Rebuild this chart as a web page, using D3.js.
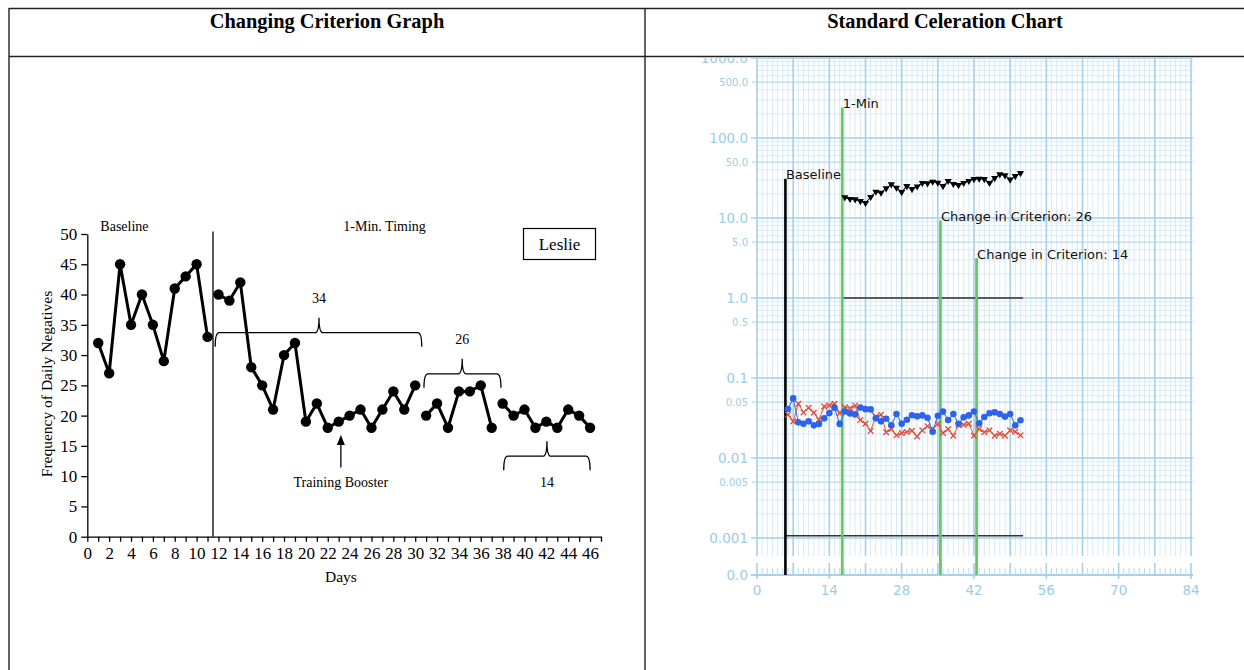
<!DOCTYPE html>
<html>
<head>
<meta charset="utf-8">
<script src="https://cdn.jsdelivr.net/npm/d3@7"></script>
<style>
body{margin:0;background:#fff}
svg{display:block}
</style>
</head>
<body>
<svg id="chart" width="1244" height="670"></svg>
<script>
// ---- changing criterion graph (left)
var days = [1,2,3,4,5,6,7,8,9,10,11,12,13,14,15,16,17,18,19,20,21,22,23,24,25,26,27,28,29,30,31,32,33,34,35,36,37,38,39,40,41,42,43,44,45,46]
var negatives = [32,27,45,35,40,35,29,41,43,45,33,
  40,39,42,28,25,21,30,32,19,22,18,19,20,21,18,21,24,21,25,
  20,22,18,24,24,25,18,
  22,20,21,18,19,18,21,20,18]
var lineBreaks = [11, 30, 37]          // line stops after these days
var phaseLineDay = 11.5
var criteria = ["34", "26", "14"]
var bracketFrom = [11.7, 30.8, 38.1]
var bracketTo = [30.6, 37.85, 46]
var bracketPeak = [21.2, 34.3, 42.05]
var bracketLevel = [33.7, 26.9, 13.3]
var boosterDay = 23.2

// ---- standard celeration chart (right)
var celDays = [6,7,8,9,10,11,12,13,14,15,16,17,18,19,20,21,22,23,24,25,26,27,28,29,30,31,32,33,34,35,36,37,38,39,40,41,42,43,44,45,46,47,48,49,50,51]
var corrects = [0.041,0.0556,0.0279,0.0268,0.0287,0.0256,0.0267,0.0313,0.0365,0.0425,0.0267,
  0.0382,0.0361,0.0351,0.0428,0.0408,0.0405,0.0313,0.0287,0.031,0.0257,0.0355,0.0268,0.0301,0.0343,
  0.0332,0.0341,0.0319,0.0213,0.0338,0.038,0.0298,0.0355,0.0268,0.0322,0.0341,0.0381,0.0271,0.0325,
  0.0363,0.0372,0.0355,0.0329,0.0355,0.0256,0.0297]
var errors = [0.0348,0.0287,0.0477,0.0371,0.0425,0.0368,0.0301,0.0441,0.0454,0.0477,0.0365,
  0.043,0.042,0.045,0.0298,0.0268,0.0218,0.033,0.0348,0.021,0.023,0.0192,0.0205,0.0211,0.0219,
  0.0186,0.0222,0.0249,0.0232,0.0266,0.0205,0.023,0.019,0.0256,0.026,0.0268,0.019,0.023,0.021,
  0.0222,0.019,0.0201,0.019,0.0222,0.0213,0.0192]
var timingDays = [17,18,19,20,21,22,23,24,25,26,27,28,29,30,31,32,33,34,35,36,37,38,39,40,41,42,43,44,45,46,47,48,49,50,51]
var timingCounts = [18.1,17.3,17.1,16.3,15.4,18.3,21.3,20.7,23.5,26.3,23.9,21.1,25.1,23.0,24.8,27.4,27.1,
  28.4,27.6,25.1,29,26.6,25.8,27.4,29,30.7,31,30.7,27.4,31.6,35.1,34.1,30.2,33.4,36.5]
var phaseDays = [5.5, 16.5, 35.5, 42.5]
var phaseTops = [31, 240, 9.3, 3.16]
var phaseNames = ["Baseline", "1-Min", "Change in Criterion: 26", "Change in Criterion: 14"]
var aimFrom = [16.5, 5.5]
var aimTo = [51.5, 51.5]
var aimValue = [1.0, 0.00107]
var majorTicks = [1000, 100, 10, 1, 0.1, 0.01, 0.001]
var majorLabels = ["1000.0", "100.0", "10.0", "1.0", "0.1", "0.01", "0.001"]
var halfTicks = [500, 50, 5, 0.5, 0.05, 0.005]
var halfLabels = ["500.0", "50.0", "5.0", "0.5", "0.05", "0.005"]
var dayLabels = [0, 14, 28, 42, 56, 70, 84]

var svg = d3.select("#chart")
var serif = "Liberation Serif, Times New Roman, serif"
var sans = "DejaVu Sans, sans-serif"

// table frame
var frame = svg.append("g").attr("stroke", "#222").attr("stroke-width", 1.4)
frame.append("line").attr("x1", 9).attr("x2", 1244).attr("y1", 8.5).attr("y2", 8.5)
frame.append("line").attr("x1", 9).attr("x2", 1244).attr("y1", 56.5).attr("y2", 56.5)
frame.append("line").attr("x1", 9).attr("x2", 9).attr("y1", 8).attr("y2", 670)
frame.append("line").attr("x1", 645).attr("x2", 645).attr("y1", 8).attr("y2", 670)

svg.append("text").attr("x", 327).attr("y", 28).attr("text-anchor", "middle")
  .style("font", "bold 20.4px " + serif).text("Changing Criterion Graph")
svg.append("text").attr("x", 945).attr("y", 28).attr("text-anchor", "middle")
  .style("font", "bold 20.4px " + serif).text("Standard Celeration Chart")

// ================= left graph
var x = d3.scaleLinear().domain([0, 47]).range([87.3, 601])
var y = d3.scaleLinear().domain([0, 50]).range([536.7, 234])
var left = svg.append("g")

var xAxis = left.append("g").attr("transform", "translate(0," + y(0) + ")")
  .call(d3.axisBottom(x).tickValues(d3.range(0, 48)).tickSize(5).tickSizeOuter(0).tickPadding(5)
    .tickFormat(function(d){ return (d % 2 == 0 && d <= 46) ? d : "" }))
var yAxis = left.append("g").attr("transform", "translate(" + x(0) + ",0)")
  .call(d3.axisLeft(y).tickValues(d3.range(0, 51, 5)).tickSize(6).tickSizeOuter(0).tickPadding(4))
left.selectAll(".domain, .tick line").attr("stroke", "#000").attr("stroke-width", 1.3)
left.selectAll(".tick text").style("font", "17px " + serif).attr("fill", "#000")

left.append("text").attr("transform", "translate(52," + 384 + ") rotate(-90)")
  .attr("text-anchor", "middle").style("font", "15.5px " + serif).text("Frequency of Daily Negatives")
left.append("text").attr("x", x(23.2)).attr("y", 582).attr("text-anchor", "middle")
  .style("font", "15.5px " + serif).text("Days")

// phase change line
left.append("line").attr("x1", x(phaseLineDay)).attr("x2", x(phaseLineDay))
  .attr("y1", y(0)).attr("y2", y(50.4)).attr("stroke", "#000").attr("stroke-width", 1.3)
left.append("text").attr("x", x(3.4)).attr("y", 231).attr("text-anchor", "middle")
  .style("font", "14px " + serif).text("Baseline")
left.append("text").attr("x", x(27.2)).attr("y", 231).attr("text-anchor", "middle")
  .style("font", "14px " + serif).text("1-Min. Timing")

// name box
left.append("rect").attr("x", 523.5).attr("y", 228.5).attr("width", 72).attr("height", 31)
  .attr("fill", "none").attr("stroke", "#000").attr("stroke-width", 1.2)
left.append("text").attr("x", 559.5).attr("y", 250).attr("text-anchor", "middle")
  .style("font", "17px " + serif).text("Leslie")

// data, broken into segments at the phase breaks
var points = days.map(function(d, i){ return {day: d, value: negatives[i]} })
var segments = []
var cur = []
points.forEach(function(p){
  cur.push(p)
  if (lineBreaks.indexOf(p.day) >= 0){ segments.push(cur); cur = [] }
})
segments.push(cur)
var line = d3.line().x(function(d){ return x(d.day) }).y(function(d){ return y(d.value) })
left.selectAll(".seg").data(segments).enter().append("path")
  .attr("d", line).attr("fill", "none").attr("stroke", "#000").attr("stroke-width", 3)
  .attr("stroke-linejoin", "round")
left.selectAll(".dot").data(points).enter().append("circle")
  .attr("cx", function(d){ return x(d.day) }).attr("cy", function(d){ return y(d.value) })
  .attr("r", 5.2).attr("fill", "#000")

// criterion braces
function brace(x0, x1, xm, yh){
  var drop = 14, rise = 15, r = 4
  return "M" + x0 + "," + (yh + drop) +
    " Q" + x0 + "," + yh + " " + (x0 + r) + "," + yh +
    " L" + (xm - r) + "," + yh +
    " Q" + xm + "," + yh + " " + xm + "," + (yh - rise) +
    " Q" + xm + "," + yh + " " + (xm + r) + "," + yh +
    " L" + (x1 - r) + "," + yh +
    " Q" + x1 + "," + yh + " " + x1 + "," + (yh + drop)
}
criteria.forEach(function(c, i){
  var yh = y(bracketLevel[i])
  left.append("path").attr("d", brace(x(bracketFrom[i]), x(bracketTo[i]), x(bracketPeak[i]), yh))
    .attr("fill", "none").attr("stroke", "#000").attr("stroke-width", 1.3)
  var ty = i < 2 ? yh - 30 : yh + 31
  left.append("text").attr("x", x(bracketPeak[i])).attr("y", ty).attr("text-anchor", "middle")
    .style("font", "14px " + serif).text(c)
})

// training booster arrow
var bx = x(boosterDay)
left.append("line").attr("x1", bx).attr("x2", bx).attr("y1", 467.5).attr("y2", 442)
  .attr("stroke", "#000").attr("stroke-width", 1.3)
left.append("path").attr("d", "M" + bx + ",435 L" + (bx - 4) + ",445 L" + (bx + 4) + ",445 Z").attr("fill", "#000")
left.append("text").attr("x", bx).attr("y", 487).attr("text-anchor", "middle")
  .style("font", "14px " + serif).text("Training Booster")

// ================= right chart
var xr = d3.scaleLinear().domain([0, 84]).range([757, 1191])
var yr = d3.scaleLog().domain([0.001, 1000]).range([538, 58])
var zeroY = yr(0.001) + 37
var gridBottom = yr(0.001) + 18
var gridRight = xr(84) + 2
var lineBlue = "#a5d0ea", faintBlue = "#d6eaf7", midBlue = "#b8daef", labelBlue = "#9ccbe7"

svg.append("clipPath").attr("id", "clipR").append("rect")
  .attr("x", 646).attr("y", 57.3).attr("width", 598).attr("height", 613)
var right = svg.append("g").attr("clip-path", "url(#clipR)")

var grid = right.append("g")
// minor horizontals first, then majors on top
var hValues = []
d3.range(-3, 3).forEach(function(k){
  d3.range(1, 10).forEach(function(m){ hValues.push({v: m * Math.pow(10, k), m: m}) })
})
hValues.push({v: 1000, m: 1})
var dayLines = d3.range(0, 85)
grid.selectAll(".vmin").data(dayLines.filter(function(d){ return d % 7 != 0 })).enter().append("line")
  .attr("x1", xr).attr("x2", xr).attr("y1", 40).attr("y2", gridBottom)
  .attr("stroke", faintBlue).attr("stroke-width", 1)
grid.selectAll(".hmin").data(hValues.filter(function(d){ return d.m != 1 && d.m != 5 })).enter().append("line")
  .attr("x1", xr(0)).attr("x2", gridRight).attr("y1", function(d){ return yr(d.v) }).attr("y2", function(d){ return yr(d.v) })
  .attr("stroke", faintBlue).attr("stroke-width", 1)
grid.selectAll(".hhalf").data(hValues.filter(function(d){ return d.m == 5 })).enter().append("line")
  .attr("x1", xr(0) - 5).attr("x2", gridRight).attr("y1", function(d){ return yr(d.v) }).attr("y2", function(d){ return yr(d.v) })
  .attr("stroke", midBlue).attr("stroke-width", 1.3)
grid.selectAll(".vmaj").data(dayLines.filter(function(d){ return d % 7 == 0 })).enter().append("line")
  .attr("x1", xr).attr("x2", xr).attr("y1", 40).attr("y2", gridBottom)
  .attr("stroke", lineBlue).attr("stroke-width", 1.6)
grid.selectAll(".hmaj").data(hValues.filter(function(d){ return d.m == 1 })).enter().append("line")
  .attr("x1", xr(0) - 6).attr("x2", gridRight).attr("y1", function(d){ return yr(d.v) }).attr("y2", function(d){ return yr(d.v) })
  .attr("stroke", lineBlue).attr("stroke-width", 1.7)

// zero row axis
grid.append("line").attr("x1", xr(0) - 6).attr("x2", gridRight).attr("y1", zeroY).attr("y2", zeroY)
  .attr("stroke", lineBlue).attr("stroke-width", 2)
grid.selectAll(".ztick").data(dayLines).enter().append("line")
  .attr("x1", xr).attr("x2", xr)
  .attr("y1", function(d){ return d % 7 == 0 ? zeroY - 12 : zeroY - 7 })
  .attr("y2", function(d){ return d % 14 == 0 ? zeroY + 4 : zeroY })
  .attr("stroke", function(d){ return d % 7 == 0 ? lineBlue : midBlue })
  .attr("stroke-width", function(d){ return d % 7 == 0 ? 1.6 : 1 })

// tick labels
right.selectAll(".ylab").data(majorTicks).enter().append("text")
  .attr("x", xr(0) - 9).attr("y", function(d){ return yr(d) }).attr("dy", "0.35em")
  .attr("text-anchor", "end").attr("fill", labelBlue).style("font", "13.5px " + sans)
  .text(function(d, i){ return majorLabels[i] })
right.selectAll(".ylab2").data(halfTicks).enter().append("text")
  .attr("x", xr(0) - 9).attr("y", function(d){ return yr(d) }).attr("dy", "0.35em")
  .attr("text-anchor", "end").attr("fill", labelBlue).style("font", "10px " + sans)
  .text(function(d, i){ return halfLabels[i] })
right.append("text").attr("x", xr(0) - 9).attr("y", zeroY).attr("dy", "0.35em")
  .attr("text-anchor", "end").attr("fill", labelBlue).style("font", "13.5px " + sans).text("0.0")
right.selectAll(".xlab").data(dayLabels).enter().append("text")
  .attr("x", xr).attr("y", zeroY + 20).attr("text-anchor", "middle")
  .attr("fill", labelBlue).style("font", "13.5px " + sans).text(function(d){ return d })

// aim lines
aimValue.forEach(function(v, i){
  right.append("line").attr("x1", xr(aimFrom[i])).attr("x2", xr(aimTo[i]))
    .attr("y1", yr(v)).attr("y2", yr(v)).attr("stroke", "#333").attr("stroke-width", 1.5)
})

// phase lines + labels
phaseDays.forEach(function(d, i){
  right.append("line").attr("x1", xr(d)).attr("x2", xr(d)).attr("y1", yr(phaseTops[i])).attr("y2", zeroY)
    .attr("stroke", i == 0 ? "#000" : "#6cc56a").attr("stroke-width", i == 0 ? 2.6 : 2.8)
  right.append("text").attr("x", xr(d) + 0.5).attr("y", yr(phaseTops[i]) + 0.5)
    .attr("fill", "#111").style("font", "13px " + sans).text(phaseNames[i])
})

// corrects / errors
var corr = celDays.map(function(d, i){ return {day: d, value: corrects[i]} })
var err = celDays.map(function(d, i){ return {day: d, value: errors[i]} })
var tim = timingDays.map(function(d, i){ return {day: d, value: timingCounts[i]} })
var rline = d3.line().x(function(d){ return xr(d.day) }).y(function(d){ return yr(d.value) })

right.append("path").datum(err).attr("d", rline).attr("fill", "none")
  .attr("stroke", "#e3604d").attr("stroke-width", 1.1)
right.selectAll(".ex").data(err).enter().append("path")
  .attr("transform", function(d){ return "translate(" + xr(d.day) + "," + yr(d.value) + ")" })
  .attr("d", "M-2.8,-2.8L2.8,2.8M-2.8,2.8L2.8,-2.8").attr("stroke", "#e04a36").attr("stroke-width", 1.3)

right.append("path").datum(corr).attr("d", rline).attr("fill", "none")
  .attr("stroke", "#3d72e6").attr("stroke-width", 1.1)
right.selectAll(".bd").data(corr).enter().append("circle")
  .attr("cx", function(d){ return xr(d.day) }).attr("cy", function(d){ return yr(d.value) })
  .attr("r", 3.3).attr("fill", "#2d63ea")

right.append("path").datum(tim).attr("d", rline).attr("fill", "none")
  .attr("stroke", "#111").attr("stroke-width", 1.1)
var tri = d3.symbol().type(d3.symbolTriangle).size(22)
right.selectAll(".tri").data(tim).enter().append("path")
  .attr("transform", function(d){ return "translate(" + xr(d.day) + "," + yr(d.value) + ") rotate(180)" })
  .attr("d", tri).attr("fill", "#000")
</script>
</body>
</html>
